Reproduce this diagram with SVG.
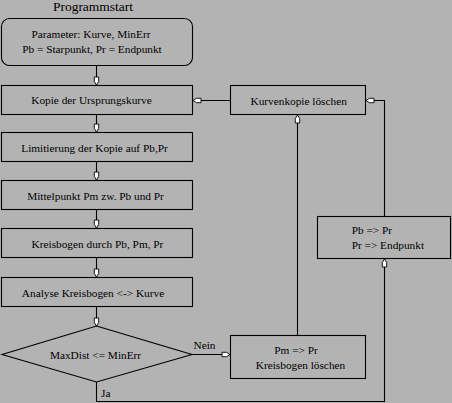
<svg xmlns="http://www.w3.org/2000/svg" width="452" height="403" viewBox="0 0 452 403" font-family="'Liberation Serif', 'DejaVu Serif', serif">
<style>
.box{fill:none;stroke:#000;stroke-width:1.1}
.ln{fill:none;stroke:#000;stroke-width:1.1}
text{font-family:'Liberation Serif','DejaVu Serif',serif;font-size:11.3px;fill:#000}
.c{text-anchor:middle}
</style>
<defs>
<marker id="ah" markerUnits="userSpaceOnUse" markerWidth="12" markerHeight="8" viewBox="-10 -4 12 8" refX="0" refY="0" orient="auto">
<path d="M0,0 L-3.5,-2.2 L-8,-2.2 L-8,2.2 L-3.5,2.2 Z" fill="#fff" stroke="#000" stroke-width="0.9"/>
</marker>
</defs>
<rect width="452" height="403" fill="#b3b3b3"/>
<text class="c" x="93" y="11" style="font-size:13.5px">Programmstart</text>
<g id="start"><rect class="box" x="1.5" y="18.5" width="191" height="47" rx="8"/>
<text class="c" x="91" y="38">Parameter: Kurve, MinErr</text>
<text class="c" x="92" y="53">Pb = Starpunkt, Pr = Endpunkt</text></g>
<g id="kopie"><rect class="box" x="1.5" y="85.5" width="191" height="29"/>
<text class="c" x="91.5" y="104">Kopie der Ursprungskurve</text></g>
<g id="limit"><rect class="box" x="1.5" y="132.5" width="191" height="29"/>
<text class="c" x="94.5" y="151.5">Limitierung der Kopie auf Pb,Pr</text></g>
<g id="mittel"><rect class="box" x="1.5" y="180.5" width="191" height="29"/>
<text class="c" x="95.5" y="199.5">Mittelpunkt Pm zw. Pb und Pr</text></g>
<g id="kreis"><rect class="box" x="1.5" y="228.5" width="191" height="29"/>
<text class="c" x="97.5" y="247.5">Kreisbogen durch Pb, Pm, Pr</text></g>
<g id="analyse"><rect class="box" x="1.5" y="277.5" width="191" height="29"/>
<text class="c" x="93" y="296.5">Analyse Kreisbogen &lt;-&gt; Kurve</text></g>
<g id="decision"><polygon class="box" points="96.5,326 192,354.5 96.5,382 2,354.5"/>
<text class="c" x="95.5" y="359">MaxDist &lt;= MinErr</text></g>
<g id="loeschen"><rect class="box" x="230.5" y="85.5" width="135" height="29"/>
<text class="c" x="298.7" y="105">Kurvenkopie löschen</text></g>
<g id="pbpr"><rect class="box" x="317.5" y="216.5" width="133" height="42"/>
<text x="351.7" y="234">Pb =&gt; Pr</text>
<text x="351.7" y="249">Pr =&gt; Endpunkt</text></g>
<g id="pmpr"><rect class="box" x="230.5" y="335.5" width="135" height="43"/>
<text class="c" x="296" y="354">Pm =&gt; Pr</text>
<text class="c" x="300.5" y="369">Kreisbogen löschen</text></g>
<g id="connectors">
<path class="ln" marker-end="url(#ah)" d="M96.5,66 V85"/>
<path class="ln" marker-end="url(#ah)" d="M96.5,115 V132"/>
<path class="ln" marker-end="url(#ah)" d="M96.5,162 V180"/>
<path class="ln" marker-end="url(#ah)" d="M96.5,210 V228"/>
<path class="ln" marker-end="url(#ah)" d="M96.5,258 V277"/>
<path class="ln" marker-end="url(#ah)" d="M96.5,307 V326"/>
<path class="ln" marker-end="url(#ah)" d="M192,354.5 H230"/>
<path class="ln" marker-end="url(#ah)" d="M96.5,382 V401.5 H384.5 V259"/>
<path class="ln" marker-end="url(#ah)" d="M384.5,216 V100.5 H366"/>
<path class="ln" marker-end="url(#ah)" d="M297.5,335 V115"/>
<path class="ln" marker-end="url(#ah)" d="M230,100.5 H193"/>
<text x="193.5" y="348.5">Nein</text>
<text x="101" y="397">Ja</text>
</g>
</svg>
